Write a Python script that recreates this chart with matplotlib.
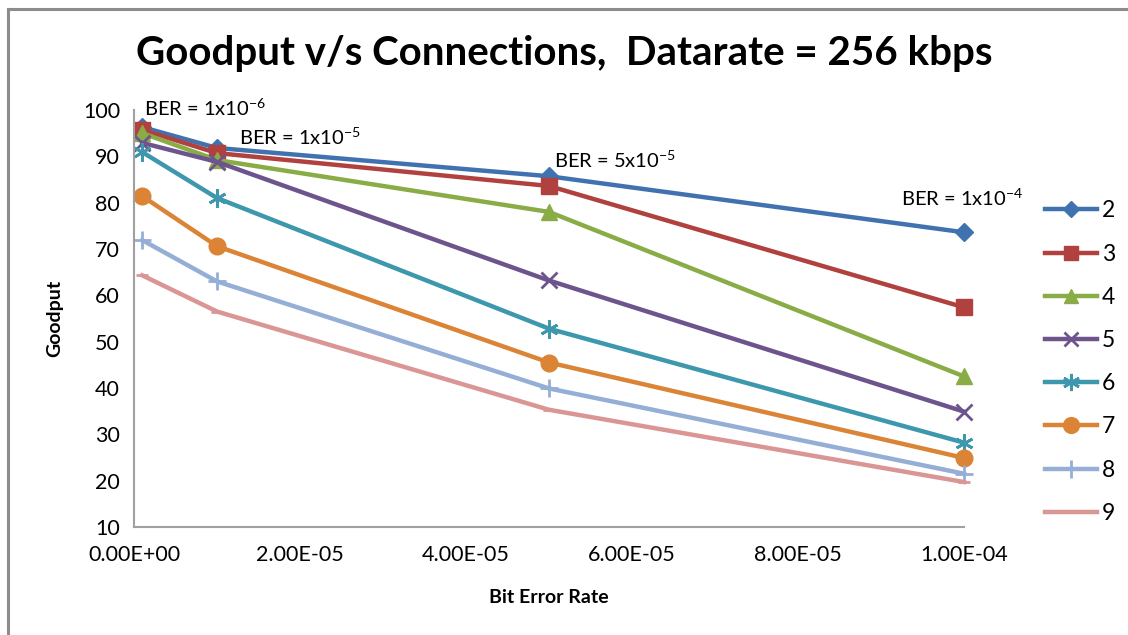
import matplotlib.pyplot as plt
from matplotlib.lines import Line2D

plt.rcParams['font.family'] = ['Lato', 'DejaVu Sans']
plt.rcParams['mathtext.fontset'] = 'custom'
plt.rcParams['mathtext.rm'] = 'Lato'
plt.rcParams['mathtext.default'] = 'regular'

ber = [1e-6, 1e-5, 5e-5, 1e-4]
connections = ['2', '3', '4', '5', '6', '7', '8', '9']
goodput = {
    '2': [96.3, 91.8, 85.7, 73.6],
    '3': [95.7, 90.7, 83.6, 57.4],
    '4': [95.0, 89.2, 78.0, 42.5],
    '5': [92.9, 88.8, 63.2, 34.9],
    '6': [90.9, 81.0, 52.8, 28.2],
    '7': [81.4, 70.6, 45.5, 24.9],
    '8': [71.9, 63.0, 39.9, 21.5],
    '9': [64.3, 56.5, 35.3, 19.7],
}
ber_labels = ['BER = 1x10$^{-6}$', 'BER = 1x10$^{-5}$', 'BER = 5x10$^{-5}$', 'BER = 1x10$^{-4}$']
xticks = [0, 2e-5, 4e-5, 6e-5, 8e-5, 1e-4]
xtick_labels = ['0.00E+00', '2.00E-05', '4.00E-05', '6.00E-05', '8.00E-05', '1.00E-04']

colors = ['#4172b0', '#b0413e', '#8aac46', '#6e548d', '#3d97ad', '#db8436', '#95aed6', '#d99694']
markers = ['D', 's', '^', 'x', (6, 2, 0), 'o', '+', '_']
msizes = [9, 11, 11, 11, 13, 12, 13, 9]


def mew(m):
    return 2 if m in ('x', '+', '_') or isinstance(m, tuple) else 1


def main():
    fig = plt.figure(figsize=(11.28, 6.35), dpi=100)
    ax = fig.add_axes([0.1188, 0.1701, 0.7358, 0.6567])

    for name, c, m, ms in zip(connections, colors, markers, msizes):
        ax.plot(ber, goodput[name], color=c, lw=3.2, marker=m, markersize=ms,
                markeredgewidth=mew(m), markeredgecolor=c, markerfacecolor=c,
                label=name, clip_on=False)

    ax.set_xlim(0, 1e-4)
    ax.set_ylim(10, 100)
    ax.set_xticks(xticks)
    ax.set_xticklabels(xtick_labels)
    ax.set_yticks(range(10, 101, 10))
    ax.tick_params(length=0, labelsize=15.5, pad=10)
    ax.tick_params(axis='x', pad=13)
    for s in ['top', 'right']:
        ax.spines[s].set_visible(False)
    for s in ['left', 'bottom']:
        ax.spines[s].set_color('#a0a0a0')
        ax.spines[s].set_linewidth(1.5)

    ax.set_xlabel('Bit Error Rate', fontsize=14, fontweight='bold', labelpad=17)
    ax.set_ylabel('Goodput', fontsize=14, fontweight='bold', labelpad=14)
    fig.text(0.5, 0.915, 'Goodput v/s Connections,  Datarate = 256 kbps',
             ha='center', va='center', fontsize=29, fontweight='bold')

    # BER annotations (positions in axes fraction)
    pos = [(0.012, 0.98), (0.127, 0.91), (0.506, 0.853), (0.924, 0.762)]
    for (px, py), t in zip(pos, ber_labels):
        ax.text(px, py, t, transform=ax.transAxes, fontsize=14.5, ha='left', va='bottom')

    handles = [Line2D([0], [0], color=c, lw=3.2, marker=m, markersize=ms * 0.95,
                      markeredgewidth=mew(m), markeredgecolor=c, markerfacecolor=c)
               for c, m, ms in zip(colors, markers, msizes)]
    fig.legend(handles, connections, loc='upper left', bbox_to_anchor=(0.918, 0.699),
               frameon=False, fontsize=16.5, handlelength=2.3, handletextpad=0.2,
               labelspacing=0.97, borderaxespad=0)

    # outer frame lines (top and left)
    fig.add_artist(Line2D([0.007, 1], [0.986, 0.986], color='#8c8c8c', lw=2.2, transform=fig.transFigure))
    fig.add_artist(Line2D([0.0075, 0.0075], [0, 0.986], color='#8c8c8c', lw=2.2, transform=fig.transFigure))

    fig.savefig('out.png', dpi=100)


if __name__ == '__main__':
    main()
